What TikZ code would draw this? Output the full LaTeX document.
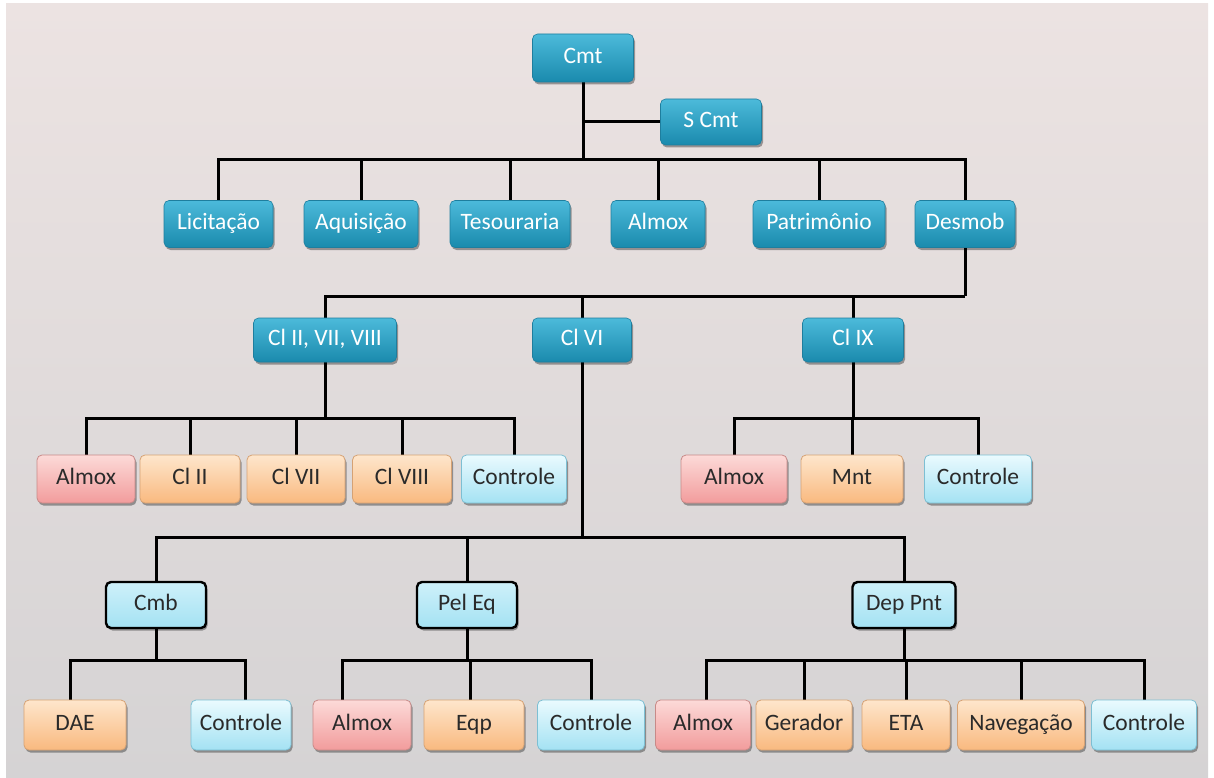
\documentclass[tikz,border=0pt]{standalone}
\usepackage{fontspec}
\setmainfont{Carlito}
\usetikzlibrary{shadows}
\definecolor{bgtop}{HTML}{ECE3E2}
\definecolor{bgbot}{HTML}{D5D3D4}
\definecolor{tealtop}{HTML}{4CBADA}
\definecolor{tealbot}{HTML}{1A8AAD}
\definecolor{tealdr}{HTML}{1E7E9E}
\definecolor{pinktop}{HTML}{FCDAD8}
\definecolor{pinkbot}{HTML}{F29C9C}
\definecolor{pinkdr}{HTML}{C88A88}
\definecolor{orgtop}{HTML}{FEE6CC}
\definecolor{orgbot}{HTML}{F9B97F}
\definecolor{orgdr}{HTML}{D6A274}
\definecolor{lbtop}{HTML}{EAFAFE}
\definecolor{lbbot}{HTML}{A4E2F3}
\definecolor{lbdr}{HTML}{7DBFD3}
\definecolor{txt}{HTML}{2A2A2A}
\pgfdeclarelayer{bg}
\pgfdeclarelayer{lines}
\pgfsetlayers{bg,lines,main}
\begin{document}
\begin{tikzpicture}[x=1pt,y=-1pt,
  box/.style={rectangle, rounded corners=5pt, inner sep=0pt,
    font=\fontsize{23.5}{28}\selectfont, text height=15pt, text depth=4pt,
    drop shadow={shadow xshift=1.5pt, shadow yshift=-2.5pt, opacity=0.35, fill=black}},
  tealbox/.style={box, top color=tealtop, bottom color=tealbot, draw=tealdr, line width=0.6pt, text=white},
  pinkbox/.style={box, top color=pinktop, bottom color=pinkbot, draw=pinkdr, line width=0.8pt, text=txt},
  orgbox/.style={box, top color=orgtop, bottom color=orgbot, draw=orgdr, line width=0.8pt, text=txt},
  lbbox/.style={box, top color=lbtop, bottom color=lbbot, draw=lbdr, line width=0.8pt, text=txt},
  subbox/.style={box, top color=lbtop!60!lbbot, bottom color=lbbot, draw=black, line width=2.4pt, text=txt},
  conn/.style={draw=black, line width=3pt, line join=miter}]
\useasboundingbox (0,0) rectangle (1214,778);
\begin{pgfonlayer}{bg}
\fill[white] (0,0) rectangle (1214,778);
\shade[top color=bgtop, bottom color=bgbot] (6,4) rectangle (1208,778);
\end{pgfonlayer}

% level 0/1
\node[tealbox, minimum width=101, minimum height=48] (cmt) at (583,58) {Cmt};
\node[tealbox, minimum width=101, minimum height=46] (scmt) at (711,122) {S Cmt};
% level 2
\node[tealbox, minimum width=109, minimum height=47] (lic) at (218.5,224) {Licitação};
\node[tealbox, minimum width=114, minimum height=47] (aqu) at (361,224) {Aquisição};
\node[tealbox, minimum width=120, minimum height=47] (tes) at (510,224) {Tesouraria};
\node[tealbox, minimum width=94, minimum height=47] (alm) at (658,224) {Almox};
\node[tealbox, minimum width=132, minimum height=47] (pat) at (819,224) {Patrimônio};
\node[tealbox, minimum width=100, minimum height=47] (des) at (965,224) {Desmob};
% level 3
\node[tealbox, minimum width=143, minimum height=44] (clA) at (325,340) {Cl II, VII, VIII};
\node[tealbox, minimum width=99, minimum height=44] (clB) at (582,340) {Cl VI};
\node[tealbox, minimum width=101, minimum height=44] (clC) at (853,340) {Cl IX};
% children of Cl II, VII, VIII
\node[pinkbox, minimum width=98, minimum height=48] (aA) at (86,479) {Almox};
\node[orgbox, minimum width=100, minimum height=48] (aB) at (190,479) {Cl II};
\node[orgbox, minimum width=98, minimum height=48] (aC) at (296,479) {Cl VII};
\node[orgbox, minimum width=99, minimum height=48] (aD) at (402,479) {Cl VIII};
\node[lbbox, minimum width=105, minimum height=48] (aE) at (514,479) {Controle};
% children of Cl IX
\node[pinkbox, minimum width=106, minimum height=48] (cA) at (734,479) {Almox};
\node[orgbox, minimum width=102, minimum height=48] (cB) at (852,479) {Mnt};
\node[lbbox, minimum width=107, minimum height=48] (cC) at (978,479) {Controle};
% level 4
\node[subbox, minimum width=100, minimum height=46] (cmb) at (156,605) {Cmb};
\node[subbox, minimum width=100, minimum height=46] (pel) at (467,605) {Pel Eq};
\node[subbox, minimum width=103, minimum height=46] (dep) at (904,605) {Dep Pnt};
% level 5
\node[orgbox, minimum width=102, minimum height=50] (dA) at (75,725) {DAE};
\node[lbbox, minimum width=100, minimum height=50] (dB) at (241,725) {Controle};
\node[pinkbox, minimum width=98, minimum height=50] (pA) at (362,725) {Almox};
\node[orgbox, minimum width=100, minimum height=50] (pB) at (474,725) {Eqp};
\node[lbbox, minimum width=107, minimum height=50] (pC) at (591,725) {Controle};
\node[pinkbox, minimum width=95, minimum height=50] (eA) at (703,725) {Almox};
\node[orgbox, minimum width=96, minimum height=50] (eB) at (804,725) {Gerador};
\node[orgbox, minimum width=88, minimum height=50] (eC) at (906,725) {ETA};
\node[orgbox, minimum width=127, minimum height=50] (eD) at (1021,725) {Navegação};
\node[lbbox, minimum width=105, minimum height=50] (eE) at (1144,725) {Controle};

\begin{pgfonlayer}{lines}
\coordinate (j0) at (583,122);
\coordinate (b1) at (583,160);
\coordinate (b2) at (965,296);
\coordinate (b3) at (325,418);
\coordinate (b4) at (853,418);
\coordinate (b5) at (582,537);
\coordinate (b6) at (156,660);
\coordinate (b7) at (467,660);
\coordinate (b8) at (904,660);
\draw[conn] (cmt) -- (b1);
\draw[conn] (j0) -- (scmt.west);
\draw[conn] (lic.north) |- (b1) -| (des.north);
\foreach \n in {aqu,tes,alm,pat} \draw[conn] (\n.north) -- (\n.north |- b1);
\draw[conn] (des) -- (b2);
\draw[conn] (clA.north) |- (b2);
\draw[conn] (clB.north) -- (clB.north |- b2);
\draw[conn] (clC.north) -- (clC.north |- b2);
\draw[conn] (clA) -- (b3);
\draw[conn] (aA.north) |- (b3) -| (aE.north);
\foreach \n in {aB,aC,aD} \draw[conn] (\n.north) -- (\n.north |- b3);
\draw[conn] (clC) -- (b4);
\draw[conn] (cA.north) |- (b4) -| (cC.north);
\draw[conn] (cB.north) -- (cB.north |- b4);
\draw[conn] (clB) -- (b5);
\draw[conn] (cmb.north) |- (b5) -| (dep.north);
\draw[conn] (pel.north) -- (pel.north |- b5);
\draw[conn] (cmb) -- (b6);
\draw[conn] ([xshift=-5pt]dA.north) |- (b6) -| ([xshift=4pt]dB.north);
\draw[conn] (pel) -- (b7);
\draw[conn] ([xshift=-20pt]pA.north) |- (b7) -| (pC.north);
\draw[conn] ([xshift=-4pt]pB.north) -- ([xshift=-4pt]pB.north |- b7);
\draw[conn] (dep) -- (b8);
\draw[conn] ([xshift=3pt]eA.north) |- (b8) -| (eE.north);
\foreach \n in {eB,eC,eD} \draw[conn] (\n.north) -- (\n.north |- b8);
\end{pgfonlayer}
\end{tikzpicture}
\end{document}
